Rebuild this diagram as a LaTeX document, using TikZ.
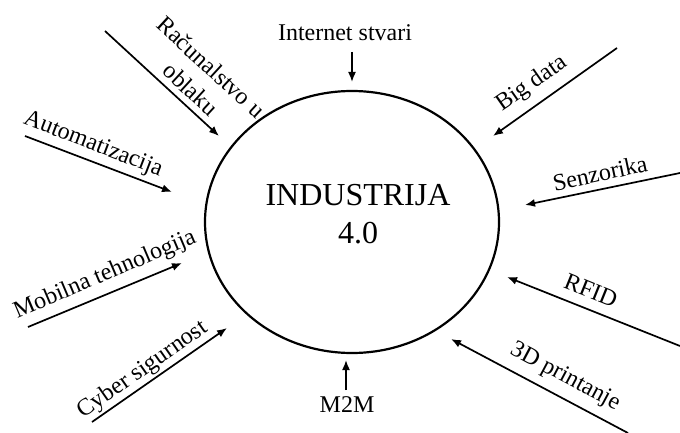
\documentclass[tikz,border=0pt]{standalone}
\usepackage{fontspec}
\setmainfont{Liberation Serif}
\usetikzlibrary{arrows.meta,shapes.geometric}

\begin{document}
\begin{tikzpicture}[x=0.5pt,y=-0.5pt,>={Latex[length=5pt,width=4pt]},every node/.append style={align=center},int/.style={draw, line width=1.1pt, ellipse, minimum width=147pt, minimum height=131pt, inner sep=0pt},lab/.style={font=\fontsize{12}{15}\selectfont, inner sep=1pt},arr/.style={->, line width=0.85pt}]
    \useasboundingbox (0,0) rectangle (680,433);
    \node [int] (I4) at (352,222) {};
    \node [font=\fontsize{16}{19}\selectfont] (I4t) at (358,214) {INDUSTRIJA\\4.0};
    % labels
    \node [lab] (Iot) at (345,33) {Internet stvari};
    \node [lab] (M2m) at (347,405) {M2M};
    \node [lab, rotate=-42.6] (Rac) at (201,78) {Računalstvo u\\oblaku};
    \node [lab, rotate=-21] (Aut) at (93,145) {Automatizacija};
    \node [lab, rotate=35] (Big) at (532,84) {Big data};
    \node [lab, rotate=12] (Sen) at (600,173) {Senzorika};
    \node [lab, rotate=23] (Mob) at (105,275) {Mobilna tehnologija};
    \node [lab, rotate=35] (Cyb) at (143,370) {Cyber sigurnost};
    \node [lab, rotate=-22] (Rfid) at (591,290) {RFID};
    \node [lab, rotate=-28] (Pr3) at (565,377) {3D printanje};
    % arrow ends
    \coordinate (Iot0) at (352,52);   \coordinate (Iot1) at (352,82);
    \coordinate (M2m0) at (346,390);  \coordinate (M2m1) at (346,360);
    \coordinate (Rac0) at (105,31);   \coordinate (Rac1) at (219,136);
    \coordinate (Aut0) at (25,136);   \coordinate (Aut1) at (172,192);
    \coordinate (Big0) at (617,48);   \coordinate (Big1) at (493,136);
    \coordinate (Sen0) at (680,173);  \coordinate (Sen1) at (525,205);
    \coordinate (Mob0) at (28,327);   \coordinate (Mob1) at (182,263);
    \coordinate (Cyb0) at (92,422);   \coordinate (Cyb1) at (227,328);
    \coordinate (Rfid0) at (680,346); \coordinate (Rfid1) at (507,277);
    \coordinate (Pr30) at (628,433);  \coordinate (Pr31) at (451,339);
    \path[arr] (Iot0) edge (Iot1);
    \path[arr] (M2m0) edge (M2m1);
    \path[arr] (Rac0) edge (Rac1);
    \path[arr] (Aut0) edge (Aut1);
    \path[arr] (Big0) edge (Big1);
    \path[arr] (Sen0) edge (Sen1);
    \path[arr] (Mob0) edge (Mob1);
    \path[arr] (Cyb0) edge (Cyb1);
    \path[arr] (Rfid0) edge (Rfid1);
    \path[arr] (Pr30) edge (Pr31);
\end{tikzpicture}
\end{document}
